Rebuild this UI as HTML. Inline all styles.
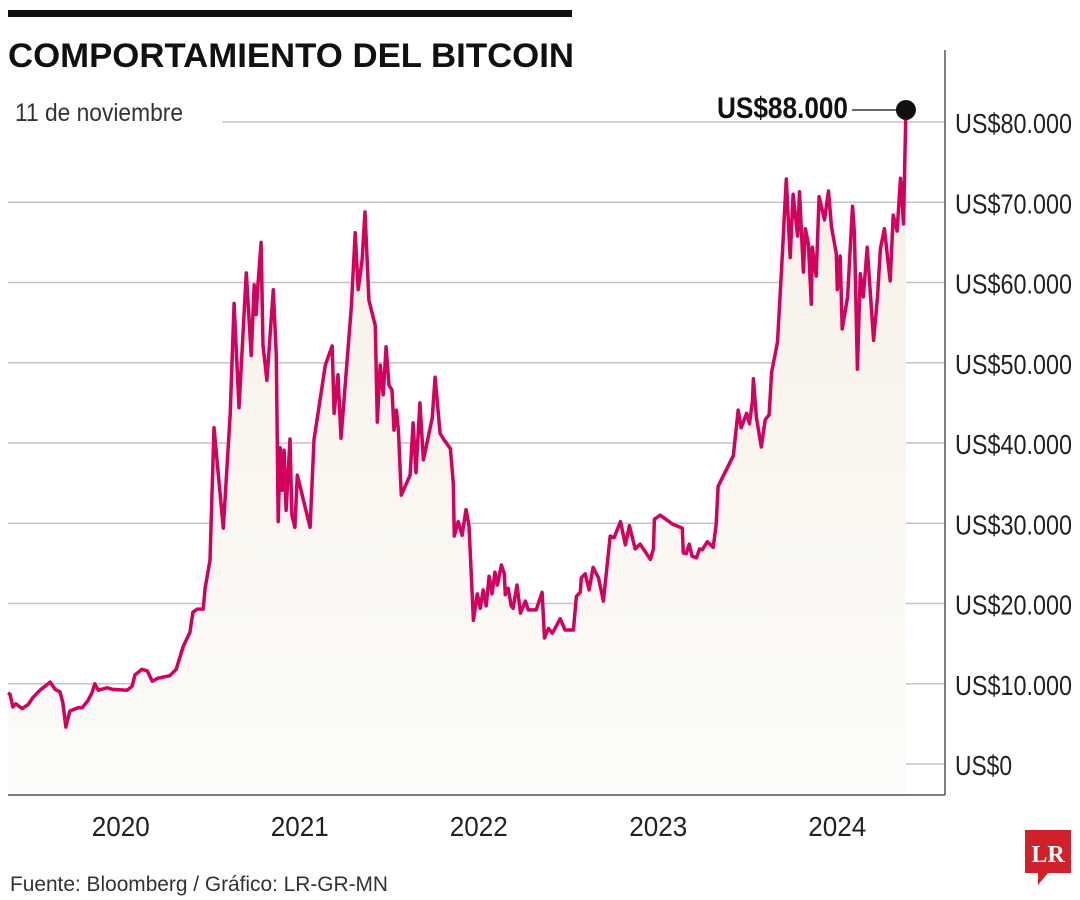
<!DOCTYPE html>
<html><head><meta charset="utf-8">
<style>
body{margin:0;background:#fff;}
svg{display:block;font-family:"Liberation Sans Narrow","Liberation Sans",sans-serif;}
</style></head>
<body>
<svg width="1080" height="900" viewBox="0 0 1080 900">
<defs>
<linearGradient id="fillg" x1="0" y1="0" x2="0" y2="1">
<stop offset="0" stop-color="#f6f0e4"/>
<stop offset="1" stop-color="#fdfcfa"/>
</linearGradient>
</defs>
<rect x="8" y="10" width="564" height="7" fill="#111"/>
<text x="8" y="67" font-family="Liberation Sans, sans-serif" font-weight="bold" font-size="34" fill="#111" textLength="566" lengthAdjust="spacingAndGlyphs">COMPORTAMIENTO DEL BITCOIN</text>
<text x="15" y="121" font-size="25" fill="#333" textLength="168" lengthAdjust="spacingAndGlyphs">11 de noviembre</text>
<g id="grid"></g>
<path id="area" fill="url(#fillg)"/>
<path id="line" fill="none" stroke="#d4005e" stroke-width="3.5" stroke-linejoin="round"/>
<line x1="945" y1="50" x2="945" y2="795" stroke="#555" stroke-width="1.5"/>
<line x1="8" y1="795" x2="945" y2="795" stroke="#555" stroke-width="1.5"/>
<g id="ylabels"></g>
<g id="xlabels"></g>
<text x="717" y="118" font-weight="bold" font-size="30" fill="#111" textLength="131" lengthAdjust="spacingAndGlyphs">US$88.000</text>
<line id="callout" y1="108" y2="108" x1="852" stroke="#111" stroke-width="1.2"/>
<circle id="dot" r="10" fill="#111"/>
<text x="10" y="891" font-size="21" fill="#333" textLength="378" lengthAdjust="spacingAndGlyphs">Fuente: Bloomberg / Gráfico: LR-GR-MN</text>
<g>
<path d="M1025 830 H1071 V873 H1048 L1038 885 V873 H1025 Z" fill="#d0202a"/>
<text x="1048" y="862" text-anchor="middle" font-family="Liberation Serif, serif" font-weight="bold" font-size="24" fill="#fff">LR</text>
</g>
</svg>
<script>
// days since 2019-11-14
const days = [0,4,10,16,29,41,51,65,86,96,106,112,118,126,143,151,163,171,177,184,202,214,243,253,259,273,284,294,306,330,343,357,371,377,386,398,402,412,420,439,453,461,471,486,496,502,506,510,516,520,528,541,547,551,555,559,563,567,575,579,585,590,616,624,647,661,665,673,679,700,708,714,722,728,736,749,753,759,765,771,777,783,787,792,796,802,820,826,832,840,847,865,871,881,889,902,908,910,918,926,934,940,949,957,963,969,975,981,987,993,998,1006,1012,1014,1020,1026,1030,1038,1045,1055,1061,1077,1089,1094,1102,1110,1126,1136,1153,1159,1167,1169,1177,1185,1193,1204,1214,1228,1236,1249,1259,1267,1279,1289,1310,1316,1318,1330,1355,1375,1377,1383,1389,1395,1404,1410,1416,1426,1438,1444,1448,1479,1489,1495,1506,1512,1518,1520,1526,1536,1544,1552,1557,1569,1577,1587,1595,1601,1610,1614,1622,1626,1632,1638,1640,1648,1654,1665,1673,1679,1689,1691,1697,1701,1712,1722,1726,1732,1738,1744,1752,1765,1773,1779,1787,1799,1805,1813,1820,1826,1831];
// price in thousands of US$
const prices = [8.85,8.7,7.1,7.5,6.9,7.4,8.3,9.2,10.2,9.3,9.0,7.6,4.6,6.6,7.0,7.0,7.9,8.85,10.0,9.2,9.5,9.3,9.2,9.7,11.1,11.8,11.6,10.3,10.7,11.0,11.8,14.6,16.4,18.9,19.3,19.3,21.9,25.4,41.9,29.4,43.6,57.4,44.4,61.2,50.9,59.7,56.0,60.0,65.0,52.2,47.8,59.1,50.9,30.2,39.4,34.1,39.1,31.6,40.5,31.0,29.5,36.0,29.5,40.4,49.7,52.1,43.7,48.5,40.6,56.9,66.2,59.1,62.8,68.8,57.8,54.6,42.6,49.7,46.0,52.0,47.2,46.6,41.6,44.1,41.6,33.5,36.0,42.5,36.3,45.0,37.9,43.1,48.2,41.2,40.4,39.3,35.0,28.4,30.2,28.5,31.7,29.7,17.9,21.2,19.4,21.7,19.7,23.4,21.2,23.9,22.3,24.8,23.7,21.1,21.9,19.7,19.4,22.3,18.8,20.3,19.2,19.2,21.4,15.7,16.9,16.3,18.1,16.7,16.7,20.9,21.4,23.2,23.7,21.7,24.5,23.2,20.3,28.4,28.2,30.2,27.3,29.7,26.8,27.4,25.5,26.8,30.5,31.0,29.9,29.4,26.3,26.2,27.4,25.9,25.7,26.8,26.7,27.7,27.0,29.9,34.6,38.4,44.1,41.9,43.7,42.4,45.2,48.0,43.2,39.5,42.9,43.5,48.8,52.6,61.3,72.9,63.1,71.0,65.8,71.3,61.3,66.7,64.8,57.3,64.4,60.8,70.7,67.8,71.4,67.0,63.6,59.1,63.3,54.2,58.2,69.5,66.2,49.2,61.1,58.2,64.4,52.8,58.2,64.2,66.7,60.2,68.4,66.4,73.0,67.3,81.5];
const yTicks = [0,10,20,30,40,50,60,70,80];
const yTickLabels = ["US$0","US$10.000","US$20.000","US$30.000","US$40.000","US$50.000","US$60.000","US$70.000","US$80.000"];
const xYears = [2020,2021,2022,2023,2024];
const xYearDays = [230,595,960,1326,1691]; // mid-year positions, days since 2019-11-14

const xs = d => 8 + d * (179/365);
const ys = v => 764 - v * 8.025;
const NS = "http://www.w3.org/2000/svg";

const grid = document.getElementById('grid');
yTicks.forEach((t,i) => {
  const l = document.createElementNS(NS,'line');
  l.setAttribute('x1', t === 80 ? 222 : 8);
  l.setAttribute('x2', 945);
  l.setAttribute('y1', ys(t)); l.setAttribute('y2', ys(t));
  l.setAttribute('stroke', '#c4c4c4'); l.setAttribute('stroke-width', '1.5');
  
  
  grid.appendChild(l);
  const tx = document.createElementNS(NS,'text');
  tx.setAttribute('x', 955); tx.setAttribute('y', ys(t) + 11);
  tx.setAttribute('font-size', '28'); tx.setAttribute('fill', '#222');
  tx.setAttribute('textLength', t === 0 ? 57 : 117);
  tx.setAttribute('lengthAdjust', 'spacingAndGlyphs');
  tx.textContent = yTickLabels[i];
  
  
  document.getElementById('ylabels').appendChild(tx);
});
xYears.forEach((y,i) => {
  const tx = document.createElementNS(NS,'text');
  tx.setAttribute('x', xs(xYearDays[i]) - 29); tx.setAttribute('y', 836);
  tx.setAttribute('font-size', '28'); tx.setAttribute('fill', '#222');
  tx.setAttribute('textLength', 58);
  tx.setAttribute('lengthAdjust', 'spacingAndGlyphs');
  tx.textContent = y;
  
  
  document.getElementById('xlabels').appendChild(tx);
});
let d = '';
days.forEach((dd,i) => { d += (i ? 'L' : 'M') + xs(dd).toFixed(1) + ' ' + ys(prices[i]).toFixed(1); });
document.getElementById('line').setAttribute('d', d);
const lastX = xs(days[days.length-1]), lastY = ys(prices[prices.length-1]);
document.getElementById('area').setAttribute('d', d + 'L' + lastX.toFixed(1) + ' 795 L' + xs(days[0]) + ' 795 Z');
const dot = document.getElementById('dot');
dot.setAttribute('cx', lastX); dot.setAttribute('cy', lastY);
const c = document.getElementById('callout');
c.setAttribute('x2', lastX); c.setAttribute('y1', lastY); c.setAttribute('y2', lastY);
</script>
</body></html>
